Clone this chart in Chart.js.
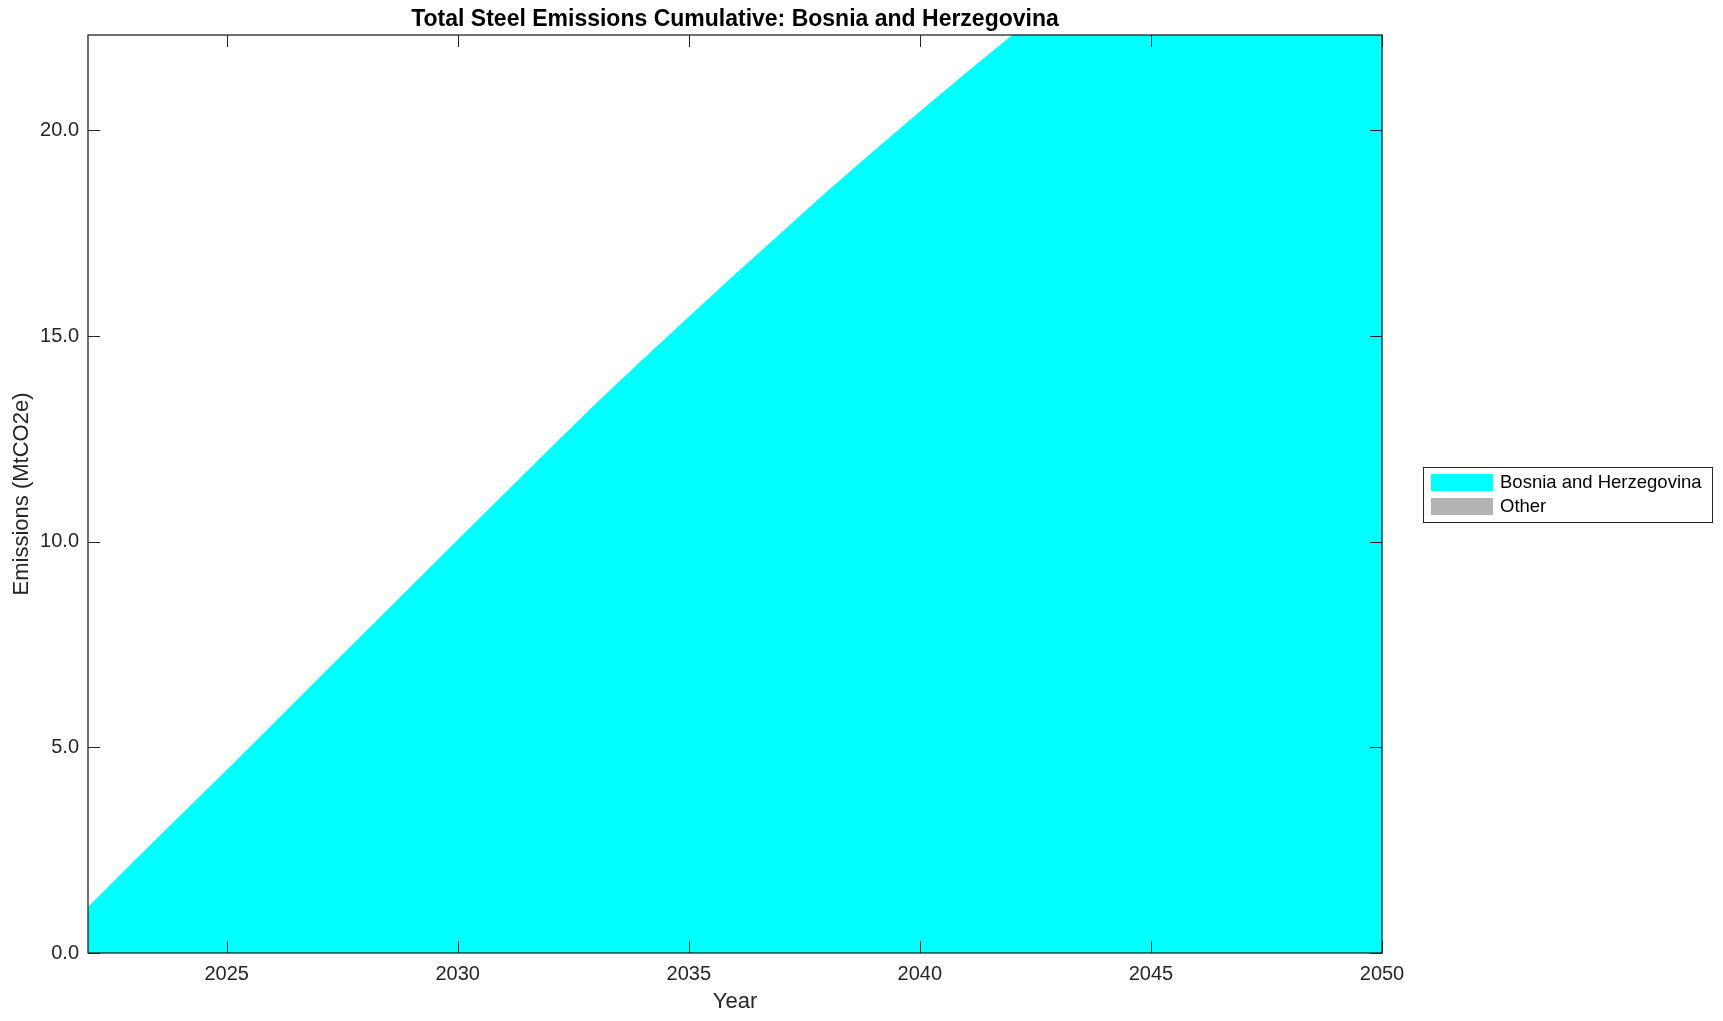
<!DOCTYPE html>
<html>
<head>
<meta charset="utf-8">
<title>Total Steel Emissions Cumulative</title>
<script src="https://cdn.jsdelivr.net/npm/chart.js@4/dist/chart.umd.min.js"></script>
<style>
  html, body { margin: 0; padding: 0; background: #ffffff; }
  #wrap { width: 1723px; height: 1021px; }
</style>
</head>
<body>
<div id="wrap"><canvas id="chart" width="1723" height="1021"></canvas></div>
<script>
'use strict';

// --- DATA ---
const years = [2022, 2023, 2024, 2025, 2026, 2027, 2028, 2029, 2030, 2031, 2032, 2033, 2034, 2035,
               2036, 2037, 2038, 2039, 2040, 2041, 2042, 2043, 2044, 2045, 2046, 2047, 2048, 2049, 2050];
const bosniaValues = [1.12, 2.24, 3.35, 4.45, 5.57, 6.69, 7.81, 8.93, 10.05, 11.16, 12.27, 13.37, 14.43, 15.47,
                      16.50, 17.51, 18.53, 19.50, 20.46, 21.40, 22.32, 23.20, 24.08, 24.94, 25.78, 26.60, 27.40, 28.18, 28.95];
const otherValues = years.map(() => 0);
const seriesNames = ['Bosnia and Herzegovina', 'Other'];
const seriesColors = ['#00ffff', '#b3b3b3'];
const chartTitle = 'Total Steel Emissions Cumulative: Bosnia and Herzegovina';
const xTitle = 'Year';
const yTitle = 'Emissions (MtCO2e)';

const FONT = '"Liberation Sans", Arial, Helvetica, sans-serif';
const AXIS_COLOR = '#262626';

// frame + inward ticks on all four sides, title, legend box
const matlabFrame = {
    id: 'matlabFrame',
    afterDraw(chart) {
        const { ctx, chartArea: a, scales } = chart;
        const tickLen = 12;
        ctx.save();
        ctx.strokeStyle = AXIS_COLOR;
        ctx.lineWidth = 1;
        ctx.beginPath();
        scales.x.ticks.forEach(t => {
            const px = Math.round(scales.x.getPixelForValue(t.value)) + 0.5;
            ctx.moveTo(px, a.bottom); ctx.lineTo(px, a.bottom - tickLen);
            ctx.moveTo(px, a.top); ctx.lineTo(px, a.top + tickLen);
        });
        scales.y.ticks.forEach(t => {
            const py = Math.round(scales.y.getPixelForValue(t.value)) + 0.5;
            ctx.moveTo(a.left, py); ctx.lineTo(a.left + tickLen, py);
            ctx.moveTo(a.right, py); ctx.lineTo(a.right - tickLen, py);
        });
        ctx.stroke();
        ctx.lineWidth = 1.3;
        ctx.strokeRect(a.left, a.top, a.right - a.left, a.bottom - a.top);

        // title
        ctx.fillStyle = '#000000';
        ctx.font = 'bold 23px ' + FONT;
        ctx.textAlign = 'center';
        ctx.textBaseline = 'middle';
        ctx.fillText(chartTitle, (a.left + a.right) / 2, 20);

        // legend
        const box = { x: 1423.5, y: 467.5, w: 289, h: 55 };
        ctx.fillStyle = '#ffffff';
        ctx.fillRect(box.x, box.y, box.w, box.h);
        ctx.lineWidth = 1;
        ctx.strokeStyle = AXIS_COLOR;
        ctx.strokeRect(box.x, box.y, box.w, box.h);
        ctx.font = '18.5px ' + FONT;
        ctx.textAlign = 'left';
        chart.data.datasets.forEach((ds, i) => {
            const sy = 474 + i * 24;
            ctx.fillStyle = ds.backgroundColor;
            ctx.fillRect(1431, sy, 62, 17);
            ctx.fillStyle = '#000000';
            ctx.fillText(ds.label, 1500, sy + 9);
        });
        ctx.restore();
    }
};

const ctx = document.getElementById('chart').getContext('2d');

new Chart(ctx, {
    type: 'line',
    data: {
        datasets: [
            {
                label: seriesNames[0],
                data: years.map((y, i) => ({ x: y, y: bosniaValues[i] })),
                backgroundColor: seriesColors[0],
                borderWidth: 0,
                pointRadius: 0,
                fill: 'origin',
                tension: 0
            },
            {
                label: seriesNames[1],
                data: years.map((y, i) => ({ x: y, y: otherValues[i] })),
                backgroundColor: seriesColors[1],
                borderWidth: 0,
                pointRadius: 0,
                fill: '-1',
                tension: 0
            }
        ]
    },
    options: {
        responsive: false,
        animation: false,
        layout: { padding: { top: 35, right: 341, left: 0, bottom: 0 } },
        plugins: {
            legend: { display: false },
            title: { display: false },
            tooltip: { enabled: false }
        },
        scales: {
            x: {
                type: 'linear',
                min: 2022,
                max: 2050,
                grid: { display: false, drawTicks: false },
                border: { display: false },
                ticks: {
                    stepSize: 5,
                    includeBounds: false,
                    padding: 9,
                    color: AXIS_COLOR,
                    font: { family: FONT, size: 20 },
                    callback: v => String(v)
                },
                title: {
                    display: true,
                    text: xTitle,
                    color: AXIS_COLOR,
                    font: { family: FONT, size: 22 },
                    padding: { top: 0, bottom: 6 }
                },
                afterFit(scale) { scale.height = 68; }
            },
            y: {
                type: 'linear',
                stacked: true,
                min: 0,
                max: 22.32,
                grid: { display: false, drawTicks: false },
                border: { display: false },
                ticks: {
                    stepSize: 5,
                    includeBounds: false,
                    padding: 9,
                    color: AXIS_COLOR,
                    font: { family: FONT, size: 20 },
                    callback: v => v.toFixed(1)
                },
                title: {
                    display: true,
                    text: yTitle,
                    color: AXIS_COLOR,
                    font: { family: FONT, size: 22 },
                    padding: { top: 9, bottom: 0 }
                },
                afterFit(scale) { scale.width = 88; }
            }
        }
    },
    plugins: [matlabFrame]
});
</script>
</body>
</html>
